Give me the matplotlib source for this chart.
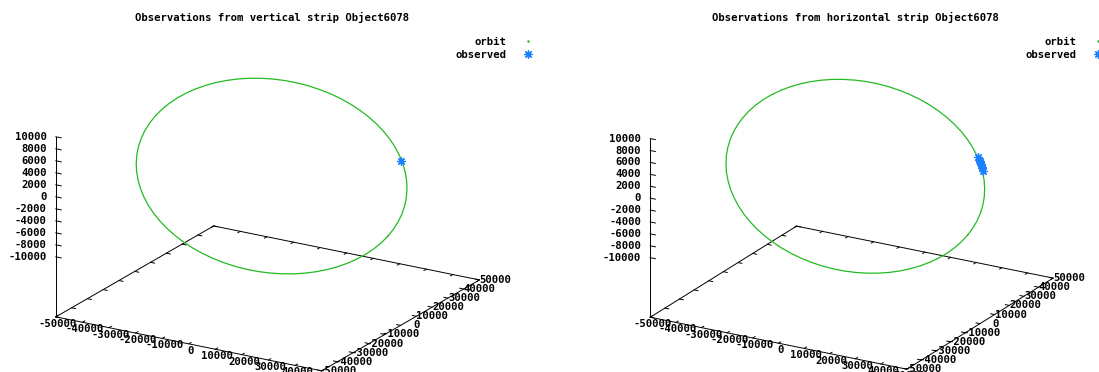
import matplotlib
matplotlib.use('Agg')
import matplotlib.pyplot as plt
from matplotlib.lines import Line2D
from matplotlib.transforms import offset_copy

plt.rcParams['font.family'] = 'DejaVu Sans Mono'
plt.rcParams['font.weight'] = 'bold'
plt.rcParams['font.size'] = 7.7

# orbit samples (km), one every 5 deg round the ellipse
orbit_x = [43800, 43630, 43130, 42310, 41160, 39700, 37930, 35880, 33550, 30970,
           28150, 25120, 21900, 18510, 14980, 11340, 7600, 3820,
           0, -3820, -7600, -11340, -14980, -18510, -21900, -25120, -28150,
           -30970, -33550, -35880, -37930, -39700, -41160, -42310, -43130, -43630,
           -43800, -43630, -43130, -42310, -41160, -39700, -37930, -35880, -33550,
           -30970, -28150, -25120, -21900, -18510, -14980, -11340, -7600, -3820,
           0, 3820, 7600, 11340, 14980, 18510, 21900, 25120, 28150,
           30970, 33550, 35880, 37930, 39700, 41160, 42310, 43130, 43630]
orbit_y = [2500, 6320, 10100, 13840, 17480, 21010, 24400, 27620, 30650,
           33470, 36050, 38380, 40430, 42200, 43660, 44810, 45630, 46130,
           46300, 46130, 45630, 44810, 43660, 42200, 40430, 38380, 36050,
           33470, 30650, 27620, 24400, 21010, 17480, 13840, 10100, 6320,
           2500, -1320, -5100, -8840, -12480, -16010, -19400, -22620, -25650,
           -28470, -31050, -33380, -35430, -37200, -38660, -39810, -40630, -41130,
           -41300, -41130, -40630, -39810, -38660, -37200, -35430, -33380, -31050,
           -28470, -25650, -22620, -19400, -16010, -12480, -8840, -5100, -1320]
orbit_z = [-6040, -5470, -4870, -4220, -3540, -2830, -2100, -1360, -610, 150,
           910, 1660, 2400, 3120, 3810, 4480, 5110, 5710,
           6260, 6760, 7210, 7610, 7950, 8230, 8440, 8590, 8680,
           8700, 8650, 8540, 8360, 8120, 7820, 7460, 7040, 6570,
           6040, 5470, 4870, 4220, 3540, 2830, 2100, 1360, 610,
           -150, -910, -1660, -2400, -3120, -3810, -4480, -5110, -5710,
           -6260, -6760, -7210, -7610, -7950, -8230, -8440, -8590, -8680,
           -8700, -8650, -8540, -8360, -8120, -7820, -7460, -7040, -6570]

# vertical strip: one detection
vert_x = [31000]
vert_y = [32400]
vert_z = [800]

# horizontal strip: small cluster
horiz_x = [35200, 34100, 33700, 32900, 32700, 31600, 31100, 30000]
horiz_y = [28200, 29100, 30000, 30600, 31200, 32000, 32800, 33600]
horiz_z = [60, 330, 360, 540, 520, 760, 800, 1020]

titles = ['Observations from vertical strip Object6078',
          'Observations from horizontal strip Object6078']
xy_ticks = list(range(-50000, 50001, 10000))
z_ticks = list(range(-10000, 10001, 2000))

GREEN = '#22bb22'
BLUE = '#1a80ff'
W, H = 1099, 372


def draw_panel(fig, ax, ox, oy, oz, elev, azim, zoom, zasp):
    ax.set_proj_type('ortho')
    ax.computed_zorder = False
    ax.view_init(elev=elev, azim=azim)
    x0, x1 = -50000, 50000
    y0, y1 = -50000, 50000
    zb, zt = -20000, 10000
    ax.set_xlim(x0, x1)
    ax.set_ylim(y0, y1)
    ax.set_zlim(zb, zt)
    ax.set_box_aspect((1, 1, zasp), zoom=zoom)
    ax.set_axis_off()
    ax.patch.set_visible(False)

    frame = dict(color='black', lw=0.7, clip_on=False)
    # base rectangle and the z axis at the left corner
    ax.plot([x0, x1, x1, x0, x0], [y0, y0, y1, y1, y0], [zb] * 5, **frame)
    ax.plot([x0, x0], [y0, y0], [zb, zt], **frame)

    tl = 1500
    for t in xy_ticks:
        ax.plot([t, t], [y0, y0 + tl], [zb, zb], **frame)
        ax.plot([t, t], [y1, y1 - tl], [zb, zb], **frame)
        ax.plot([x1, x1 - tl], [t, t], [zb, zb], **frame)
        ax.plot([x0, x0 + tl], [t, t], [zb, zb], **frame)
    for t in z_ticks:
        ax.plot([x0, x0 + 2000], [y0, y0], [t, t], **frame)

    xlab = offset_copy(ax.transData, fig=fig, x=2, y=-7, units='dots')
    ylab = offset_copy(ax.transData, fig=fig, x=16, y=0, units='dots')
    zlab = offset_copy(ax.transData, fig=fig, x=-9, y=0, units='dots')
    for t in xy_ticks:
        ax.text(t, y0, zb, str(t), zdir=None, transform=xlab,
                ha='center', va='center', clip_on=False)
        ax.text(x1, t, zb, str(t), zdir=None, transform=ylab,
                ha='center', va='center', clip_on=False)
    for t in z_ticks:
        ax.text(x0, y0, t, str(t), zdir=None, transform=zlab,
                ha='right', va='center', clip_on=False)

    ax.plot(orbit_x + orbit_x[:1], orbit_y + orbit_y[:1], orbit_z + orbit_z[:1],
            color=GREEN, lw=0.9, clip_on=False)
    ax.plot(ox, oy, oz, ls='none', marker=(8, 2, 0), ms=6, mew=0.9, color=BLUE,
            clip_on=False)


fig = plt.figure(figsize=(W / 100, H / 100), dpi=100, facecolor='white')

S = 700
panels = [
    # centre x px, elev, azim, zoom, z aspect
    (268, 20, -59.3, 0.662, 0.62),
    (852, 20.8, -60.3, 0.637, 0.647),
]
obs = [(vert_x, vert_y, vert_z), (horiz_x, horiz_y, horiz_z)]
title_x = [272, 855]
legend_x = [533, 1103]

for i, (cx, elev, azim, zoom, zasp) in enumerate(panels):
    left = cx - 0.514 * S
    bottom = (H - 208) - 0.514 * S
    ax = fig.add_axes([left / W, bottom / H, S / W, S / H], projection='3d')
    draw_panel(fig, ax, *obs[i], elev, azim, zoom, zasp)
    fig.text(title_x[i] / W, 1 - 17 / H, titles[i], ha='center', va='center')
    handles = [Line2D([], [], ls='none', marker='.', ms=1.5, color=GREEN),
               Line2D([], [], ls='none', marker=(8, 2, 0), ms=6, mew=0.9, color=BLUE)]
    fig.legend(handles, ['orbit', 'observed'], loc='upper right',
               bbox_to_anchor=(legend_x[i] / W, 1 - 37 / H),
               markerfirst=False, frameon=False, borderpad=0, borderaxespad=0,
               handlelength=1.0, handletextpad=1.5, labelspacing=0.25)

fig.savefig('out.png', dpi=100)
